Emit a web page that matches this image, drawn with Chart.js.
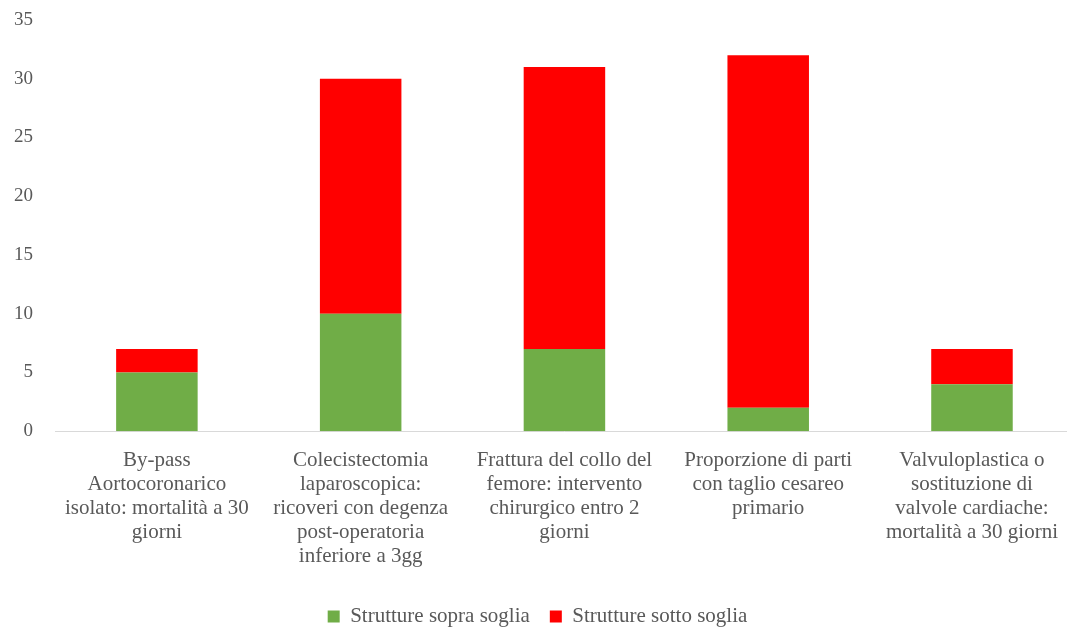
<!DOCTYPE html>
<html>
<head>
<meta charset="utf-8">
<script src="https://cdn.jsdelivr.net/npm/chart.js@4"></script>
<style>
  html, body { margin: 0; padding: 0; background: #fff; overflow: hidden; }
  #wrap { width: 1075px; height: 637px; }
</style>
</head>
<body>
<div id="wrap"><canvas id="soglieChart"></canvas></div>
<script>
var categories = [
  ["By-pass", "Aortocoronarico", "isolato: mortalità a 30", "giorni"],
  ["Colecistectomia", "laparoscopica:", "ricoveri con degenza", "post-operatoria", "inferiore a 3gg"],
  ["Frattura del collo del", "femore: intervento", "chirurgico entro 2", "giorni"],
  ["Proporzione di parti", "con taglio cesareo", "primario"],
  ["Valvuloplastica o", "sostituzione di", "valvole cardiache:", "mortalità a 30 giorni"]
];
var sopraSoglia = [5, 10, 7, 2, 4];
var sottoSoglia = [2, 20, 24, 30, 3];
var yTicks = [0, 5, 10, 15, 20, 25, 30, 35];

var fontFamily = "'Liberation Serif', 'DejaVu Serif', serif";
var textColor = '#595959';

var soglieChart = document.getElementById("soglieChart");
var soglieChartConfig = {
  type: 'bar',
  data: {
    labels: categories,
    datasets: [{
      label: 'Strutture sopra soglia',
      data: sopraSoglia,
      backgroundColor: '#70ad47',
      barPercentage: 0.4,
      categoryPercentage: 1
    }, {
      label: 'Strutture sotto soglia',
      data: sottoSoglia,
      backgroundColor: '#ff0000',
      barPercentage: 0.4,
      categoryPercentage: 1
    }]
  },
  options: {
    responsive: true,
    maintainAspectRatio: false,
    animation: false,
    layout: {
      padding: { top: 20, right: 0, bottom: 0, left: 0 }
    },
    plugins: {
      tooltip: { enabled: false },
      legend: {
        position: 'bottom',
        labels: {
          color: textColor,
          font: { family: fontFamily, size: 21 },
          boxWidth: 12,
          boxHeight: 12,
          padding: 20
        }
      }
    },
    scales: {
      x: {
        stacked: true,
        grid: { display: false, drawTicks: false },
        border: { display: true, color: '#d9d9d9', width: 1 },
        ticks: {
          color: textColor,
          font: { family: fontFamily, size: 21, lineHeight: 1.15 },
          maxRotation: 0,
          autoSkip: false,
          padding: 17
        }
      },
      y: {
        stacked: true,
        min: 0,
        max: 35,
        grid: { display: false, drawTicks: false },
        border: { display: false },
        afterBuildTicks: function (axis) {
          axis.ticks = yTicks.map(function (v) { return { value: v }; });
        },
        afterFit: function (axis) {
          axis.width = 55;
          axis.paddingTop = 0;
          axis.paddingBottom = 0;
        },
        ticks: {
          color: textColor,
          font: { family: fontFamily, size: 19 },
          padding: 22
        }
      }
    }
  }
};
var soglieChartObj = new Chart(soglieChart, soglieChartConfig);
</script>
</body>
</html>
